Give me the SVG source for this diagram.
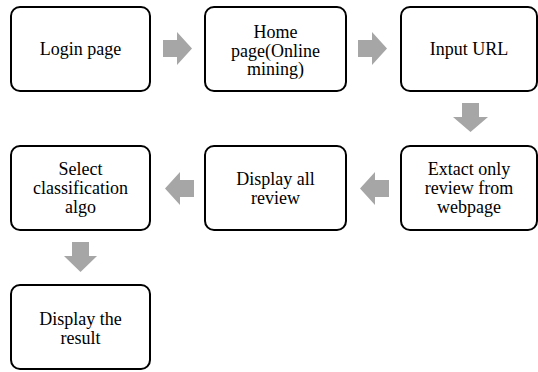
<svg xmlns="http://www.w3.org/2000/svg" width="538" height="372" viewBox="0 0 538 372">
  <style>
    .box { fill: #ffffff; stroke: #000000; stroke-width: 2; }
    .lbl { font-family: "Liberation Serif", "Times New Roman", serif; font-size: 18px; fill: #000000; text-anchor: middle; }
    .arrow { fill: #a6a6a6; }
  </style>
  <rect width="538" height="372" fill="#ffffff"/>

  <g id="connectors">
    <!-- right arrows, top row -->
    <polygon class="arrow" points="163,40 177,40 177,32 192,48.5 177,65 177,57 163,57"/>
    <polygon class="arrow" points="358,40 372,40 372,32 387,48.5 372,65 372,57 358,57"/>
    <!-- down arrow on the right -->
    <polygon class="arrow" points="462,103 479,103 479,117 488,117 470.5,132 453,117 462,117"/>
    <!-- left arrows, middle row -->
    <polygon class="arrow" points="389,180 375,180 375,172 360,188.5 375,205 375,197 389,197"/>
    <polygon class="arrow" points="194,180 180,180 180,172 165,188.5 180,205 180,197 194,197"/>
    <!-- down arrow on the left -->
    <polygon class="arrow" points="72,242 89,242 89,256 97,256 80.5,272 64,256 72,256"/>
  </g>

  <g id="login">
    <rect class="box" x="11" y="7" width="139" height="84" rx="9"/>
    <text class="lbl" x="80.5" y="55">Login page</text>
  </g>

  <g id="home">
    <rect class="box" x="205" y="7" width="141" height="84" rx="9"/>
    <text class="lbl" x="275.5" y="38">Home</text>
    <text class="lbl" x="275.5" y="56.5">page(Online</text>
    <text class="lbl" x="275.5" y="75">mining)</text>
  </g>

  <g id="input-url">
    <rect class="box" x="401" y="7" width="136" height="84" rx="9"/>
    <text class="lbl" x="469" y="55">Input URL</text>
  </g>

  <g id="extract">
    <rect class="box" x="401" y="146" width="136" height="84" rx="9"/>
    <text class="lbl" x="469" y="175">Extact only</text>
    <text class="lbl" x="469" y="194">review from</text>
    <text class="lbl" x="469" y="213">webpage</text>
  </g>

  <g id="display-review">
    <rect class="box" x="205" y="146" width="141" height="84" rx="9"/>
    <text class="lbl" x="275.5" y="184.5">Display all</text>
    <text class="lbl" x="275.5" y="203.5">review</text>
  </g>

  <g id="select-algo">
    <rect class="box" x="11" y="146" width="139" height="84" rx="9"/>
    <text class="lbl" x="80.5" y="175">Select</text>
    <text class="lbl" x="80.5" y="194">classification</text>
    <text class="lbl" x="80.5" y="213">algo</text>
  </g>

  <g id="display-result">
    <rect class="box" x="11" y="285" width="139" height="84" rx="9"/>
    <text class="lbl" x="80.5" y="325">Display the</text>
    <text class="lbl" x="80.5" y="343.5">result</text>
  </g>
</svg>
